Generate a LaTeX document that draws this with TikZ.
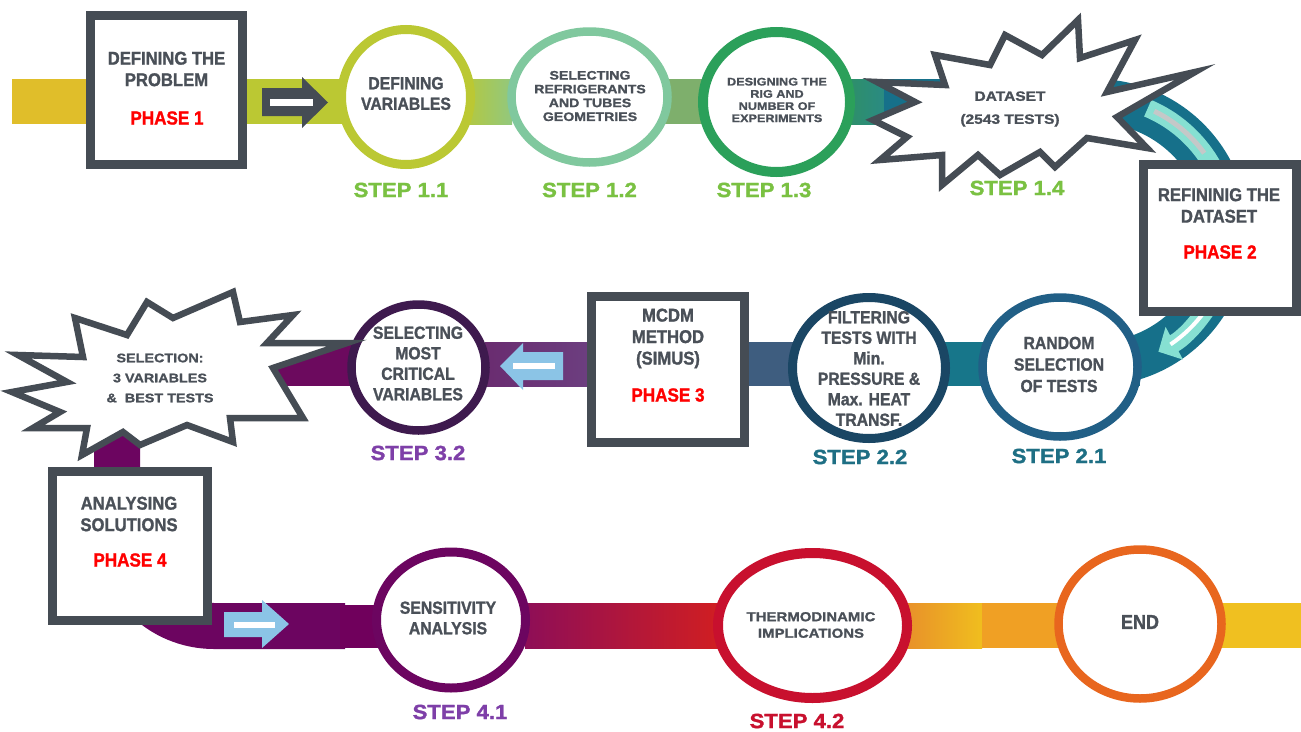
\documentclass[tikz,border=0pt]{standalone}
\usepackage{fontspec}
\setmainfont{Liberation Sans}
\newfontfamily\cndfont{Liberation Sans}[FakeStretch=0.9, BoldFeatures={FakeBold=1.3}]
\newfontfamily\widfont{Liberation Sans}[FakeStretch=1.15, BoldFeatures={FakeBold=1.2}]
\newfontfamily\stpfont{Liberation Sans}[FakeStretch=1.08, BoldFeatures={FakeBold=1.5}]
\usetikzlibrary{shapes.geometric,arrows.meta}
\definecolor{dgray}{HTML}{454C54}
\definecolor{tgray}{HTML}{4A5058}
\definecolor{gold}{HTML}{E0BE2A}
\definecolor{ygreen}{HTML}{BBC833}
\definecolor{mint}{HTML}{80C89E}
\definecolor{green3}{HTML}{2BA05A}
\definecolor{stepgreen}{HTML}{7AC142}
\definecolor{tealb}{HTML}{16708A}
\definecolor{teal2}{HTML}{17768A}
\definecolor{slate}{HTML}{3E5D7F}
\definecolor{c21col}{HTML}{215F86}
\definecolor{c22col}{HTML}{1A4664}
\definecolor{stepteal}{HTML}{1E6F84}
\definecolor{c32col}{HTML}{3E1A4E}
\definecolor{steppurp}{HTML}{7E3FA8}
\definecolor{purp}{HTML}{6C0560}
\definecolor{c42col}{HTML}{C8102E}
\definecolor{endcol}{HTML}{E8661E}
\definecolor{lblue}{HTML}{8BC4E6}
\definecolor{aqua}{HTML}{86E0D2}
\definecolor{lgray}{HTML}{C4C8C8}
\definecolor{phred}{HTML}{FF0000}
\tikzset{
  phasebox/.style={rectangle, draw=dgray, line width=9pt, fill=white, inner sep=0pt},
  cir/.style={ellipse, fill=white, line width=8.5pt, inner sep=0pt},
  burst/.style={draw=dgray, fill=white, line width=6.5pt, line join=miter, miter limit=20},
  ttl/.style={text=tgray, font=\cndfont\bfseries\fontsize{18.5}{21.5}\selectfont, align=center, inner sep=0pt},
  phs/.style={text=phred, font=\cndfont\bfseries\fontsize{19}{21}\selectfont, inner sep=0pt},
  ctx/.style={text=tgray, font=\cndfont\bfseries\fontsize{17.5}{20.5}\selectfont, align=center, inner sep=0pt},
  wtx/.style={text=tgray, align=center, inner sep=0pt},
  steplbl/.style={font=\stpfont\bfseries\fontsize{20.5}{22}\selectfont, inner sep=0pt}
}
\begin{document}
\begin{tikzpicture}[x=1pt,y=-1pt]
\fill[white] (0,0) rectangle (1301,731);
\useasboundingbox (0,0) rectangle (1301,731);

% ---------- top band ----------
\fill[gold] (12,79) rectangle (250,124);
\fill[ygreen] (247,79) rectangle (345,124);
\fill[left color=ygreen!85!mint, right color=mint!70!ygreen] (468,79) rectangle (512,124);
\fill[color={rgb,255:red,126;green,175;blue,108}] (665,79) rectangle (703,124);
\fill[left color={rgb,255:red,46;green,143;blue,106}, right color={rgb,255:red,42;green,138;blue,132}] (850,79) rectangle (886,124);
\fill[tealb] (884,79) rectangle (1096,124);
% ---------- right arc ----------
\draw[tealb, line width=44pt] (1095,101) arc[start angle=-90, end angle=90, radius=131.5];
\draw[aqua, line width=18pt, -{Triangle[width=36pt,length=18pt]}] ([shift={(-67:135)}]1095,232.5) arc[start angle=-67, end angle=62, radius=135];
\draw[lgray, line width=5pt] ([shift={(-64:135)}]1095,232.5) arc[start angle=-64, end angle=-36, radius=135];
\draw[white, line width=4pt] ([shift={(36:135)}]1095,232.5) arc[start angle=36, end angle=56, radius=135];

% ---------- middle band ----------
\fill[tealb] (1090,342) rectangle (1140,386);
\fill[teal2] (940,342) rectangle (990,386);
\fill[slate] (745,342) rectangle (795,386);
\fill[left color={rgb,255:red,106;green,44;blue,112}, right color={rgb,255:red,108;green,63;blue,128}] (485,342) rectangle (592,386);
\fill[color={rgb,255:red,108;green,10;blue,94}] (250,342) rectangle (355,386);

% ---------- purple curve and bottom band ----------
\draw[purp, line width=46pt] (117,415) -- (117,529) arc[start angle=180, end angle=90, radius=97] -- (345,626);
\fill[color={rgb,255:red,112;green,0;blue,92}] (340,605) rectangle (380,648);
\fill[left color={rgb,255:red,142;green,14;blue,87}, middle color={rgb,255:red,196;green,12;blue,48}, right color={rgb,255:red,208;green,30;blue,34}] (525,603) rectangle (718,648);
\fill[left color={rgb,255:red,232;green,144;blue,42}, right color={rgb,255:red,240;green,190;blue,30}] (905,603) rectangle (982,648);
\fill[color={rgb,255:red,240;green,160;blue,36}] (982,603) rectangle (1060,648);
\fill[color={rgb,255:red,240;green,192;blue,32}] (1220,603) rectangle (1301,648);

% ---------- circles ----------
\node[cir, draw=ygreen, line width=9pt, minimum width=129pt, minimum height=135pt] (c11) at (406,97) {};
\node[cir, draw=mint, minimum width=156pt, minimum height=131pt] (c12) at (589.5,97) {};
\node[cir, draw=green3, line width=10pt, minimum width=147pt, minimum height=140pt] (c13) at (776.5,102) {};
\node[cir, draw=c21col, minimum width=155pt, minimum height=139pt] (c21) at (1060,367) {};
\node[cir, draw=c22col, line width=9pt, minimum width=153pt, minimum height=141pt] (c22) at (869,368) {};
\node[cir, draw=c32col, minimum width=134pt, minimum height=126pt] (c32) at (418.5,367.5) {};
\node[cir, draw=purp, line width=9pt, minimum width=149pt, minimum height=136pt] (c41) at (451,620) {};
\node[cir, draw=c42col, line width=10pt, minimum width=189pt, minimum height=145pt] (c42) at (812.5,625.5) {};
\node[cir, draw=endcol, minimum width=163pt, minimum height=149pt] (cend) at (1140,624) {};

% ---------- bursts ----------
\draw[burst] (1078,20) -- (1080,58) -- (1135,40) -- (1107,92) -- (1195,72) -- (1117,117) -- (1147,148) -- (1087,138) -- (1055,167) -- (1040,152) -- (1000,175) -- (978,155) -- (942,185) -- (942,155) -- (880,160) -- (907,137) -- (873,120) -- (915,102) -- (877,82) -- (945,85) -- (935,55) -- (990,65) -- (1005,35) -- (1042,55) -- cycle;
\draw[burst] (233,292) -- (240,322) -- (293,315) -- (267,343) -- (347,343) -- (273,368) -- (303,418) -- (230,418) -- (233,442) -- (187,425) -- (140,445) -- (123,432) -- (82,455) -- (87,428) -- (33,428) -- (60,412) -- (12,392) -- (67,382) -- (18,355) -- (83,357) -- (75,318) -- (127,335) -- (147,302) -- (173,318) -- cycle;

% ---------- phase boxes ----------
\node[phasebox, minimum width=152pt, minimum height=149pt] (p1) at (166.5,90) {};
\node[phasebox, minimum width=153pt, minimum height=147pt] (p2) at (1220,238) {};
\node[phasebox, minimum width=153pt, minimum height=146pt] (p3) at (668,369.5) {};
\node[phasebox, minimum width=155pt, minimum height=149pt] (p4) at (130,546) {};

% ---------- arrows ----------
\fill[dgray] (262,88) -- (302,88) -- (302,77) -- (328,102.5) -- (302,128) -- (302,116) -- (262,116) -- cycle;
\fill[white] (270,99) rectangle (313,106);
\fill[lblue] (563,352) -- (523,352) -- (523,343) -- (500,366) -- (523,390) -- (523,380) -- (563,380) -- cycle;
\fill[white] (513,363) rectangle (555,369);
\fill[lblue] (224,612) -- (262,612) -- (262,600) -- (289,624) -- (262,648) -- (262,637) -- (224,637) -- cycle;
\fill[white] (234,621.5) rectangle (275,627.5);

% ---------- texts ----------
\node[ttl] (tp1) at (166.5,69) {DEFINING THE\\PROBLEM};
\node[phs] (hp1) at (167,118) {PHASE 1};
\node[ctx] (t11) at (406,93.5) {DEFINING\\VARIABLES};
\node[wtx, font=\widfont\bfseries\fontsize{12.3}{13.8}\selectfont] (t12) at (590,96) {SELECTING\\REFRIGERANTS\\AND TUBES\\GEOMETRIES};
\node[wtx, font=\widfont\bfseries\fontsize{11}{12.2}\selectfont] (t13) at (777,100) {DESIGNING THE\\RIG AND\\NUMBER OF\\EXPERIMENTS};
\node[wtx, font=\widfont\bfseries\fontsize{13.5}{23}\selectfont] (t14) at (1010,109) {DATASET\\(2543 TESTS)};
\node[steplbl, text=stepgreen] (s11) at (401,190) {STEP 1.1};
\node[steplbl, text=stepgreen] (s12) at (589.5,190) {STEP 1.2};
\node[steplbl, text=stepgreen] (s13) at (764,190) {STEP 1.3};
\node[steplbl, text=stepgreen] (s14) at (1017,188) {STEP 1.4};

\node[ttl] (tp2) at (1219,205.5) {REFININIG THE\\DATASET};
\node[phs] (hp2) at (1220,252) {PHASE 2};
\node[ctx, font=\cndfont\bfseries\fontsize{17.5}{21.5}\selectfont] (t21) at (1059,364.5) {RANDOM\\SELECTION\\OF TESTS};
\node[ctx] (t22) at (869,368.5) {FILTERING\\TESTS WITH\\Min.\\PRESSURE \&\\Max. HEAT\\TRANSF.};
\node[ttl] (tp3) at (668,338.5) {MCDM\\METHOD\\(SIMUS)};
\node[phs] (hp3) at (668,395) {PHASE 3};
\node[ctx] (t32) at (418,363.5) {SELECTING\\MOST\\CRITICAL\\VARIABLES};
\node[wtx, font=\widfont\bfseries\fontsize{12.5}{20}\selectfont] (t33) at (160,378) {SELECTION:\\3 VARIABLES\\\&\ \ BEST TESTS};
\node[steplbl, text=stepteal] (s21) at (1059,456) {STEP 2.1};
\node[steplbl, text=stepteal] (s22) at (860,457) {STEP 2.2};
\node[steplbl, text=steppurp] (s32) at (418,453) {STEP 3.2};

\node[ttl] (tp4) at (129,514) {ANALYSING\\SOLUTIONS};
\node[phs] (hp4) at (130,560) {PHASE 4};
\node[ctx] (t41) at (448,618) {SENSITIVITY\\ANALYSIS};
\node[wtx, font=\widfont\bfseries\fontsize{13}{16.5}\selectfont] (t42) at (811,625) {THERMODINAMIC\\IMPLICATIONS};
\node[ctx, font=\cndfont\bfseries\fontsize{20}{22}\selectfont] (tend) at (1140,622) {END};
\node[steplbl, text=steppurp] (s41) at (460,712) {STEP 4.1};
\node[steplbl, text=c42col] (s42) at (797,721) {STEP 4.2};
\end{tikzpicture}
\end{document}
